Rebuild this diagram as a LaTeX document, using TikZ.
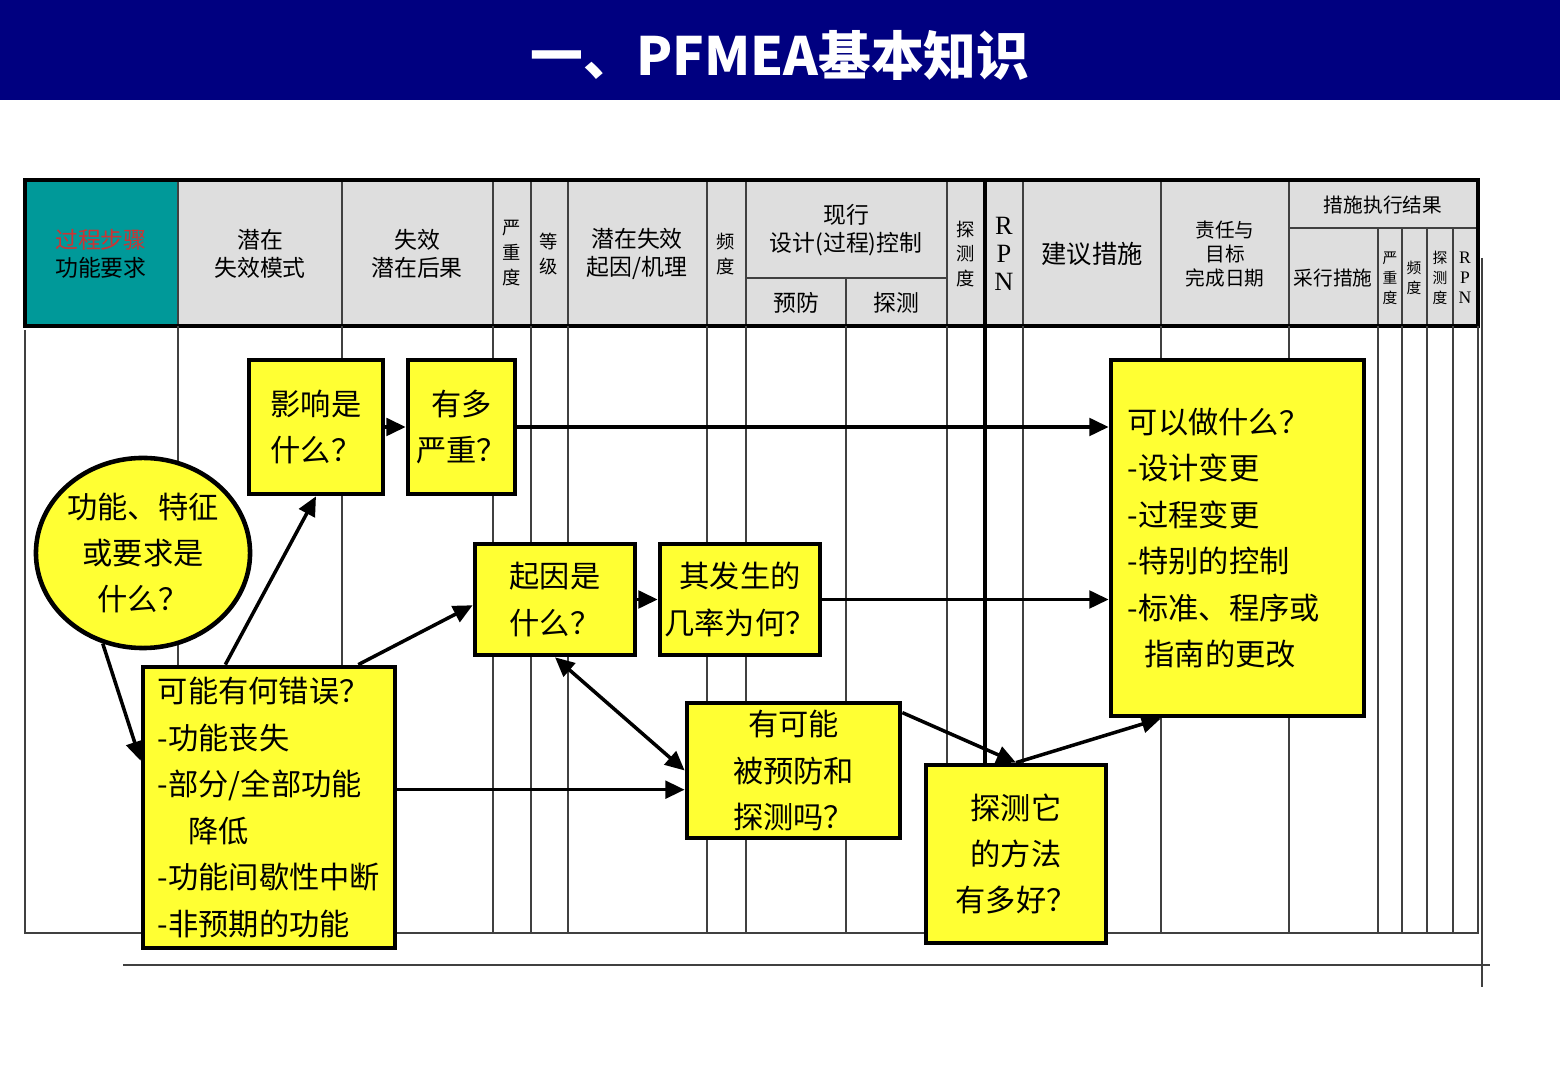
\documentclass[tikz,border=0pt]{standalone}
\usepackage{fontspec}
\setmainfont{Noto Sans CJK SC}
\newfontfamily\rpnfont{Liberation Serif}
\usetikzlibrary{shapes.geometric,arrows.meta}
\definecolor{barblue}{RGB}{0,0,128}
\definecolor{hdgray}{RGB}{222,222,222}
\definecolor{hdteal}{RGB}{0,153,153}
\definecolor{stepred}{RGB}{204,51,51}
\definecolor{boxyellow}{RGB}{255,255,51}

\begin{document}
\begin{tikzpicture}[
                    x=0.01cm, y=-0.01cm,
                    grid/.style={draw=black!75, line width=0.6pt},
                    hd/.style={font=\fontsize{6.5}{7.9}\selectfont, align=center, inner sep=0pt},
                    hdv/.style={font=\fontsize{5.2}{7}\selectfont, align=center, inner sep=0pt},
                    hdtiny/.style={font=\fontsize{4.2}{5.7}\selectfont, align=center, inner sep=0pt},
                    rpn/.style={font=\rpnfont\fontsize{7.5}{8}\selectfont, align=center, inner sep=0pt},
                    box/.style={draw=black, fill=boxyellow, line width=1.3pt,
                                font=\fontsize{8.6}{13.2}\selectfont, align=center, inner sep=0pt},
                    arr/.style={line width=1pt, -{Triangle[length=5.5pt,width=5pt]}}
                ]
                \useasboundingbox (0,0) rectangle (1560,1080);

                % title bar
                \fill[barblue] (0,0) rectangle (1560,100);
                \node[text=white, font=\fontsize{15}{18}\bfseries\selectfont] (ttl) at (780,55) {一、PFMEA基本知识};

                % table head
                \fill[hdgray] (25,180) rectangle (1478,326);
                \fill[hdteal] (25,180) rectangle (178,326);
                \foreach \x in {178,342,493,531,568,707,746,947,1023,1161,1289}
                    \draw[grid] (\x,180) -- (\x,326);
                \draw[line width=0.9pt] (985,180) -- (985,326);
                \draw[grid] (846,278) -- (846,326);
                \draw[grid] (746,278) -- (947,278);
                \draw[grid] (1289,228) -- (1478,228);
                \foreach \x in {1378,1402,1427,1453}
                    \draw[grid] (\x,228) -- (\x,326);
                \draw[line width=1.1pt] (25,180) rectangle (1478,326);

                % table body
                \foreach \x in {178,342,493,531,568,707,746,846,947,1023,1161,1289,1378,1402,1427,1453}
                    \draw[grid] (\x,326) -- (\x,933);
                \draw[line width=0.9pt] (985,326) -- (985,933);
                \draw[grid] (25,330) -- (25,933) -- (1478,933) -- (1478,326);
                \draw[grid] (1482,258) -- (1482,987);
                \draw[grid] (123,965) -- (1490,965);

                % head texts
                \node[hd] (h1) at (101,254) {\textcolor{stepred}{过程步骤}\\功能要求};
                \node[hd] (h2) at (260,254) {潜在\\失效模式};
                \node[hd] (h3) at (417,254) {失效\\潜在后果};
                \node[hdv] (h4) at (512,253) {严\\重\\度};
                \node[hdv] (h5) at (549,254) {等\\级};
                \node[hd] (h6) at (637,254) {潜在失效\\起因/机理};
                \node[hdv] (h7) at (726,254) {频\\度};
                \node[hd] (h8) at (846,230) {现行\\设计(过程)控制};
                \node[hd] (h8a) at (796,303) {预防};
                \node[hd] (h8b) at (896,303) {探测};
                \node[hdv] (h9) at (966,254) {探\\测\\度};
                \node[rpn] (h10) at (1004,254) {R\\P\\N};
                \node[hd, font=\fontsize{7.2}{8}\selectfont] (h11) at (1092,254) {建议措施};
                \node[hdv, font=\fontsize{5.6}{6.9}\selectfont] (h12) at (1225,254) {责任与\\目标\\完成日期};
                \node[hdv, font=\fontsize{5.6}{6.9}\selectfont] (h13) at (1383,205) {措施执行结果};
                \node[hdv, font=\fontsize{5.6}{6.9}\selectfont] (h13a) at (1333,278) {采行措施};
                \node[hdtiny] (h13b) at (1390,278) {严\\重\\度};
                \node[hdtiny] (h13c) at (1414,278) {频\\度};
                \node[hdtiny] (h13d) at (1440,278) {探\\测\\度};
                \node[rpn, font=\rpnfont\fontsize{5}{5.7}\selectfont] (h13e) at (1465,278) {R\\P\\N};

                % question boxes
                \node[box, ellipse, minimum width=2.14cm, minimum height=1.9cm] (ell) at (143,553) {功能、特征\\或要求是\\什么？};
                \node[box, minimum width=1.34cm, minimum height=1.34cm] (imp) at (316,427) {影响是\\什么？};
                \node[box, minimum width=1.07cm, minimum height=1.34cm] (sev) at (461.5,427) {有多\\严重？};
                \node[box, minimum width=1.6cm, minimum height=1.11cm] (cause) at (555,599.5) {起因是\\什么？};
                \node[box, minimum width=1.6cm, minimum height=1.11cm] (freq) at (740,599.5) {其发生的\\几率为何？};
                \node[box, align=left, text width=2.22cm, inner xsep=0.15cm, minimum height=2.81cm] (err) at (269,807.5)
                    {可能有何错误？\\-功能丧失\\-部分/全部功能\\\hspace*{1em}降低\\\mbox{-功能间歇性中断}\\-非预期的功能};
                \node[box, minimum width=2.13cm, minimum height=1.35cm] (prev) at (793.5,770.5) {有可能\\被预防和\\探测吗？};
                \node[box, minimum width=1.8cm, minimum height=1.78cm] (meth) at (1016,854) {探测它\\的方法\\有多好？};
                \node[box, align=left, text width=2.19cm, inner xsep=0.17cm, minimum height=3.56cm] (act) at (1237.5,538)
                    {可以做什么？\\-设计变更\\-过程变更\\-特别的控制\\-标准、程序或\\\hspace*{0.55em}指南的更改};

                % connectors
                \draw[arr] (ell.246) -- (err.160);
                \draw[arr] (err.107) -- (imp.south);
                \draw[arr] (err.58) -- (cause.184);
                \draw[arr] (err.east |- prev.190) -- (prev.190);
                \draw[arr] (imp.east) -- (sev.west);
                \draw[arr] (sev.east) -- (act.west |- sev.east);
                \draw[arr] (cause.east) -- (freq.west);
                \draw[arr] (freq.east) -- (act.west |- freq.east);
                \draw[arr, {Triangle[length=5.5pt,width=5pt]}-{Triangle[length=5.5pt,width=5pt]}] (cause.south) -- (prev.west);
                \draw[arr] (prev.28) -- (meth.north);
                \draw[arr] (meth.north) -- (act.247);

            \end{tikzpicture}
\end{document}
